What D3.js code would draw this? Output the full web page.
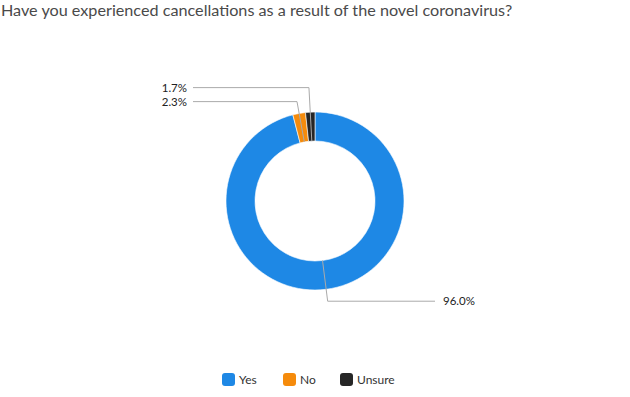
<!DOCTYPE html>
<html>
<head>
<meta charset="utf-8">
<script src="https://cdn.jsdelivr.net/npm/d3@7"></script>
<style>
  body { margin: 0; background: #fff; }
  svg { font-family: Lato, "Open Sans", sans-serif; }
</style>
</head>
<body>
<svg id="chart"></svg>
<script>
// data
const categories = ["Yes", "No", "Unsure"];
const values = [96.0, 2.3, 1.7];
const colors = ["#1e88e5", "#f58b0c", "#262626"];
const title = "Have you experienced cancellations as a result of the novel coronavirus?";

const width = 630;
const height = 397;
const cx = 315, cy = 201;
const outerR = 89;
const innerR = 60;
const labelSize = 11.5;
const labelGap = 14;

const svg = d3.select("#chart")
  .attr("width", width)
  .attr("height", height);

svg.append("text")
  .attr("x", 1)
  .attr("y", 16)
  .attr("font-size", 16.2)
  .attr("fill", "#4a4a4a")
  .text(title);

const data = categories.map((c, i) => ({label: c, value: values[i], color: colors[i]}));

const pie = d3.pie()
  .value(d => d.value)
  .sort(null);
const arcs = pie(data);

const arcGen = d3.arc()
  .innerRadius(innerR)
  .outerRadius(outerR);

const g = svg.append("g")
  .attr("transform", `translate(${cx}, ${cy})`);

g.selectAll("path")
  .data(arcs)
  .enter()
  .append("path")
  .attr("d", arcGen)
  .attr("fill", d => d.data.color)
  .attr("stroke", "#fff")
  .attr("stroke-width", 0.6);

// label layout: radial point then resolve overlaps
const labelR = outerR + 12;
const labels = arcs.map(d => {
  const a = (d.startAngle + d.endAngle) / 2;
  return {d: d, a: a, y: -Math.cos(a) * labelR, right: Math.sin(a) >= 0};
});
// push overlapping labels apart (move upward)
const sorted = labels.slice().sort((p, q) => q.y - p.y);
for (let i = 1; i < sorted.length; i++) {
  if (sorted[i - 1].right === sorted[i].right && sorted[i - 1].y - sorted[i].y < labelGap) {
    sorted[i].y = sorted[i - 1].y - labelGap;
  }
}

labels.forEach(l => {
  const s = Math.sin(l.a), c = -Math.cos(l.a);
  const x0 = s * innerR, y0 = c * innerR;
  const x1 = s * (l.y / c);
  const xEnd = l.right ? 120 : -122;
  g.append("polyline")
    .attr("points", `${x0},${y0} ${x1},${l.y} ${xEnd},${l.y}`)
    .attr("fill", "none")
    .attr("stroke", "#aaaaaa")
    .attr("stroke-width", 1);
  g.append("text")
    .attr("x", l.right ? 128 : -128)
    .attr("y", l.y)
    .attr("dy", "0.35em")
    .attr("text-anchor", l.right ? "start" : "end")
    .attr("font-size", labelSize)
    .attr("fill", "#222")
    .text(l.d.data.value.toFixed(1) + "%");
});

// legend
const legendOffsets = [222, 283, 340];
const legend = svg.append("g")
  .attr("transform", "translate(0, 373)");
const item = legend.selectAll("g")
  .data(data)
  .enter()
  .append("g")
  .attr("transform", (d, i) => `translate(${legendOffsets[i]}, 0)`);
item.append("rect")
  .attr("width", 13)
  .attr("height", 13)
  .attr("rx", 3)
  .attr("fill", d => d.color);
item.append("text")
  .attr("x", 17)
  .attr("y", 7)
  .attr("dy", "0.35em")
  .attr("font-size", 12)
  .attr("fill", "#333")
  .text(d => d.label);
</script>
</body>
</html>
